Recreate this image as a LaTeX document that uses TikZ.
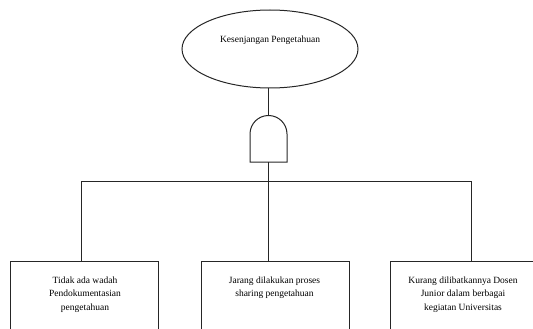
\documentclass[tikz,border=0pt]{standalone}
\usepackage{fontspec}
\setmainfont{Liberation Serif}
\usetikzlibrary{shapes.geometric}
\tikzset{
  ln/.style={line width=1pt,draw=black!85},
  causebox/.style={ln,rectangle,anchor=north,minimum width=148pt,minimum height=110pt,inner sep=0pt},
  lbl/.style={anchor=north,align=center,inner sep=0pt,font=\fontsize{9.5pt}{13.6pt}\selectfont},
}
\begin{document}
\begin{tikzpicture}[x=1pt,y=-1pt]
\useasboundingbox (0,0) rectangle (533,329);
\clip (0,0) rectangle (533,329);
% top event
\node[ln,ellipse,minimum width=176pt,minimum height=78pt,inner sep=0pt] (top) at (270,49) {};
\node[lbl] (toplbl) at (270,36) {Kesenjangan Pengetahuan};
% AND gate
\coordinate (gt) at (268.5,115);
\coordinate (gb) at (268.5,162);
\draw[ln] (250,162) -- (250,134) arc[start angle=180,end angle=360,radius=18.5] -- (287,162) -- cycle;
% cause boxes
\node[causebox] (b1) at (84,260.5) {};
\node[causebox] (b2) at (275,260.5) {};
\node[causebox] (b3) at (464,260.5) {};
\node[lbl] (t1) at (85,276.5) {Tidak ada wadah\\Pendokumentasian\\pengetahuan};
\node[lbl] (t2) at (274.5,276.5) {Jarang dilakukan proses\\sharing pengetahuan};
\node[lbl] (t3) at (463,276.5) {Kurang dilibatkannya Dosen\\Junior dalam berbagai\\kegiatan Universitas};
% connectors
\coordinate (j) at (268.5,181.5);
\coordinate (c1) at (81.7,181.5);
\coordinate (c3) at (471.7,181.5);
\draw[ln] (top.south -| gt) -- (gt);
\draw[ln] (gb) -- (j) -- (j |- b2.north);
\draw[ln] (c1 |- b1.north) -- (c1) -- (c3) -- (c3 |- b3.north);
\end{tikzpicture}
\end{document}
